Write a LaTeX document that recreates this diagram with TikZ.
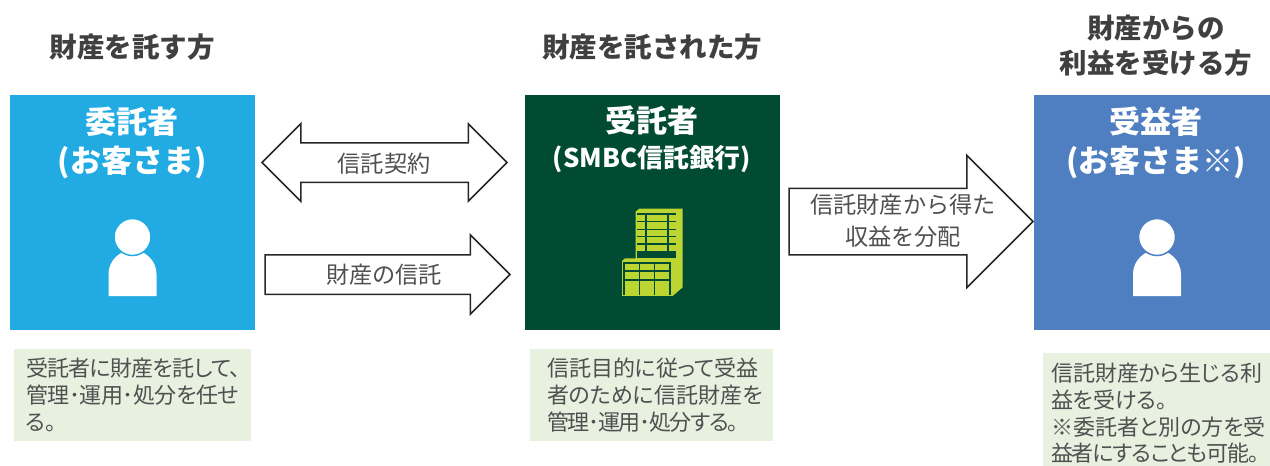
\documentclass[tikz,border=0pt]{standalone}
\usepackage{fontspec}
\setmainfont{Noto Sans CJK JP}
\newfontfamily\propfont[RawFeature=+palt]{Noto Sans CJK JP}
\usetikzlibrary{shapes.arrows}
\definecolor{skyblue}{HTML}{22ABE2}
\definecolor{deepgreen}{HTML}{004B32}
\definecolor{steelblue}{HTML}{4F7FC0}
\definecolor{palegreen}{HTML}{E8F0E0}
\definecolor{limegreen}{HTML}{BCD531}
\definecolor{textgray}{HTML}{404040}
\definecolor{notegray}{HTML}{505050}
\tikzstyle{partybox}   = [rectangle, minimum height=235pt, inner sep=0pt]
\tikzstyle{heading}    = [text=textgray, align=center, font=\fontsize{27.5}{35}\selectfont\bfseries, inner sep=0pt]
\tikzstyle{boxtitle}   = [text=white, align=center, font=\fontsize{31}{39}\selectfont\bfseries, inner sep=0pt]
\tikzstyle{notepanel}  = [rectangle, fill=palegreen, text=notegray, align=left, font=\propfont\fontsize{22}{26.7}\selectfont, inner ysep=0pt]
\tikzstyle{rightarrow} = [single arrow, anchor=tail, single arrow head extend=20pt, single arrow tip angle=90, inner xsep=0pt, inner ysep=19pt, outer sep=0pt, draw=black!85, line width=1.5pt, fill=white]
\tikzstyle{botharrow}  = [double arrow, double arrow head extend=19pt, double arrow tip angle=90, inner xsep=0pt, inner ysep=19pt, outer sep=0pt, draw=black!85, line width=1.5pt, fill=white]
\tikzstyle{arrowtext}  = [text=notegray, align=center, font=\fontsize{23.2}{32}\selectfont, inner sep=0pt]
\newcommand{\personicon}[2]{
    \fill [white] (#1-24,296) -- (#1-24,274) .. controls (#1-24,260) and (#1-12,250) .. (#1,250)
        .. controls (#1+12,250) and (#1+24,260) .. (#1+24,274) -- (#1+24,296) -- cycle;
    \fill [white, draw=#2, line width=1.5pt] (#1,237) circle (18.5);
}
\newcommand{\tightline}[2]{{\addfontfeature{LetterSpace=#1}#2}}
\begin{document}
\begin{tikzpicture}[x=1pt, y=-1pt]

    \useasboundingbox (0,0) rectangle (1270,466);

    \node (headleft)  [heading] at (132,47)   {財産を託す方};
    \node (headmid)   [heading] at (652,47)   {財産を託された方};
    \node (headright) [heading] at (1156,46)  {財産からの\\利益を受ける方};

    \node (boxleft)  [partybox, minimum width=245pt, fill=skyblue]   at (132.5,212.5) {};
    \node (boxmid)   [partybox, minimum width=255pt, fill=deepgreen] at (652.5,212.5) {};
    \node (boxright) [partybox, minimum width=236pt, fill=steelblue] at (1152,212.5)  {};

    \node (titleleft)  [boxtitle] at (132,143)  {委託者\\(お客さま)};
    \node (titlemid)   [boxtitle, font=\fontsize{31}{35}\selectfont\bfseries] at (652,139) {受託者\\{\fontsize{25.8}{35}\selectfont (SMBC信託銀行)}};
    \node (titleright) [boxtitle] at (1156,143) {受益者\\(お客さま※)};

    \personicon{132.5}{skyblue}
    \personicon{1157}{steelblue}

    % building
    \begin{scope}[shift={(590,190)}, x=0.3333pt, y=-0.3333pt]
        \fill [limegreen] (137,65) -- (148,56) -- (278,56) -- (278,292) -- (248,318) -- (96,318)
            -- (96,213) -- (105,205) -- (137,205) -- cycle;
        \fill [deepgreen] (141,68) rectangle (259,205);
        \fill [deepgreen] (100,217) rectangle (244,316);
        \foreach \ya/\yb in {75/92, 97/116, 120/138, 142/160, 165/183} {
            \foreach \xa/\xb in {141/165, 170/232, 237/259} {
                \fill [limegreen] (\xa,\ya) rectangle (\xb,\yb);
            }
        }
        \foreach \ya/\yb in {223/241, 247/266, 272/316} {
            \foreach \xa/\xb in {106/146, 151/192, 196/238} {
                \fill [limegreen] (\xa,\ya) rectangle (\xb,\yb);
            }
        }
    \end{scope}

    \node (contract) [botharrow, minimum height=245pt, minimum width=77pt] at (384.5,162.5) {};
    \node (entrust)  [rightarrow, minimum height=245pt, minimum width=79pt] at (265,274.5) {};
    \node (profit)   [rightarrow, single arrow head extend=33pt, inner ysep=32.5pt, minimum height=244pt, minimum width=131pt] at (789,221.5) {};

    \node (contracttext) [arrowtext] at (384,164)   {信託契約};
    \node (entrusttext)  [arrowtext] at (384,275)   {財産の信託};
    \node (profittext)   [arrowtext] at (903,221)   {信託財産から得た\\収益を分配};

    \node (noteleft)  [notepanel, minimum width=237pt, minimum height=92pt, inner xsep=12pt, text width=213pt] at (132.5,395)
        {\tightline{-3}{受託者に財産を託して、}\\\tightline{-2}{管理･運用･処分を任せ}\\る。};
    \node (notemid)   [notepanel, minimum width=243pt, minimum height=92pt, inner xsep=17pt, text width=209pt] at (651.5,395)
        {信託目的に従って受益\\者のために信託財産を\\\tightline{-6}{管理･運用･処分する。}};
    \node (noteright) [notepanel, minimum width=227pt, minimum height=121pt, inner xsep=8pt, text width=211pt] at (1156.5,413.5)
        {信託財産から生じる利\\益を受ける。\\※委託者と別の方を受\\\tightline{-5}{益者にすることも可能。}};

\end{tikzpicture}
\end{document}
